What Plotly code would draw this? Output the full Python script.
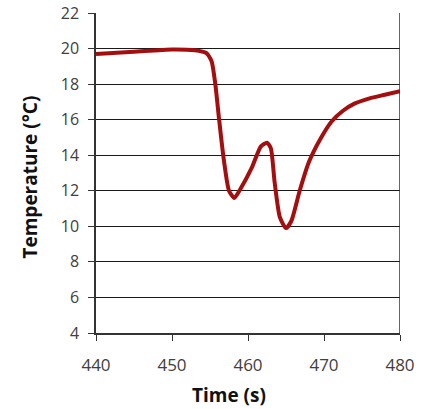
import plotly.graph_objects as go

time_s = [440, 445, 450, 453, 454.5, 455.2, 455.7, 456.2, 456.8, 457.5, 458.2, 459, 460.5,
          461.7, 462.5, 463, 463.5, 464.2, 465, 465.7, 466.8, 468, 469.5, 471, 472.5, 474,
          476, 478, 480]
temp_c = [19.7, 19.82, 19.95, 19.9, 19.75, 19.3, 18.0, 16.0, 13.8, 12.0, 11.6, 12.1, 13.3,
          14.5, 14.7, 14.4, 12.5, 10.5, 9.9, 10.3, 12.0, 13.6, 14.9, 15.9, 16.5, 16.9,
          17.2, 17.4, 17.6]
x_ticks = [440, 450, 460, 470, 480]
y_ticks = [4, 6, 8, 10, 12, 14, 16, 18, 20, 22]
x_title = "Time (s)"
y_title = "Temperature (°C)"

fig = go.Figure()
fig.add_trace(go.Scatter(x=time_s, y=temp_c, mode="lines",
                         line=dict(color="#A50E0E", width=4, shape="spline", smoothing=0.6),
                         showlegend=False, hoverinfo="skip"))

fig.update_layout(
    width=423, height=409,
    margin=dict(l=96, r=23, t=13, b=76, autoexpand=False),
    paper_bgcolor="white", plot_bgcolor="white",
    font=dict(family="Open Sans, Liberation Sans, sans-serif", color="#404040", size=15),
)
fig.update_xaxes(range=[440, 480], tickvals=x_ticks, showgrid=False, zeroline=False, automargin=False,
                 showline=True, linecolor="#333333", linewidth=1.5, mirror=False,
                 ticks="outside", ticklen=6, tickcolor="#333333", tickfont=dict(size=17),
                 ticklabelstandoff=10)
fig.update_yaxes(range=[4, 22], tickvals=y_ticks, showgrid=True, gridcolor="#1a1a1a", gridwidth=1.3,
                 zeroline=False, showline=True, linecolor="#333333", linewidth=1.5, automargin=False,
                 ticks="outside", ticklen=6, tickcolor="#333333", tickfont=dict(size=16),
                 ticklabelstandoff=6)
fig.add_shape(type="line", xref="x", yref="paper", x0=480, x1=480, y0=0, y1=1,
              line=dict(color="#333333", width=1.5))
fig.add_annotation(text="<b>" + x_title + "</b>", xref="paper", yref="paper", x=0.4375, y=-0.193,
                   showarrow=False, xanchor="center", yanchor="middle",
                   font=dict(size=19, color="#111111"))
fig.add_annotation(text="<b>" + y_title + "</b>", xref="paper", yref="paper", x=-0.217, y=0.486,
                   showarrow=False, xanchor="center", yanchor="middle", textangle=-90,
                   font=dict(size=19, color="#111111"))

fig.write_html("out.html", config={"displayModeBar": False},
               post_script="document.body.style.margin='0';")
